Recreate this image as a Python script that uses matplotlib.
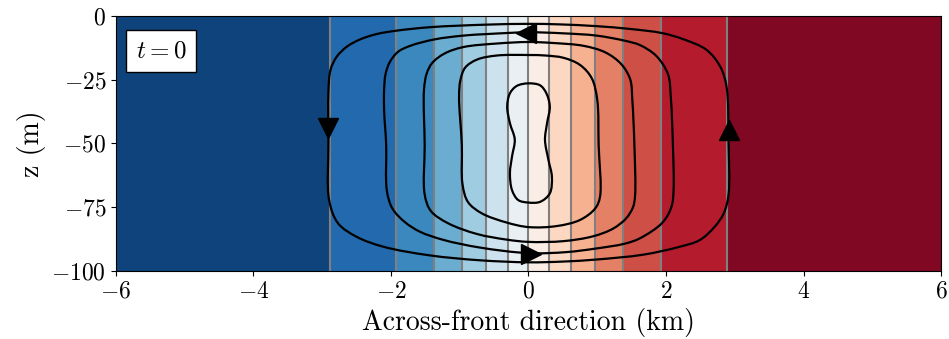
import numpy as np
import matplotlib
matplotlib.use('Agg')
import matplotlib.pyplot as plt
from matplotlib.path import Path
from matplotlib.patches import PathPatch

plt.rcParams['font.family'] = 'serif'
plt.rcParams['font.serif'] = ['cmr10']
plt.rcParams['mathtext.fontset'] = 'cm'
plt.rcParams['axes.formatter.use_mathtext'] = True

# buoyancy contour positions (km) -> colour bands between them
band_edges = [-2.89, -1.93, -1.37, -0.965, -0.615, -0.30, 0.0,
              0.30, 0.615, 0.965, 1.37, 1.93, 2.89]
band_index = list(range(len(band_edges) + 1))

# streamlines (x in km, z in m), closed loops
loop1_x = [0, -0.61, -1.43, -1.93, -2.21, -2.45, -2.64, -2.79, -2.88, -2.91, -2.91, -2.90,
           -2.77, -2.50, -2.11, -1.43, -0.71, 0, 0.51, 0.99, 1.67, 2.20, 2.49, 2.71, 2.84,
           2.91, 2.91, 2.88, 2.79, 2.59, 2.25, 1.94, 1.48, 0.99, 0.45]
loop1_z = [-3.2, -3.5, -4.5, -5.9, -7.2, -9.3, -12.1, -16.1, -21.3, -30, -50, -72.2,
           -81.3, -86.6, -90.5, -93.9, -95.8, -96.6, -96.3, -95.5, -93.6, -90.5, -87.9, -82.6, -77.4,
           -70, -50, -27.8, -20, -13.4, -9.2, -6.8, -5.2, -4.1, -3.4]

loop2_x = [0, -0.61, -0.95, -1.37, -1.72, -1.90, -2.02, -2.08, -2.10, -2.10, -2.07, -2.06,
           -1.98, -1.80, -1.58, -1.24, -0.71, 0, 0.55, 0.98, 1.40, 1.62, 1.95, 2.08, 2.11,
           2.10, 2.07, 2.03, 1.86, 1.62, 1.40, 0.99, 0.50]
loop2_z = [-6.5, -7.2, -7.8, -9.3, -11.8, -14.2, -18.3, -23, -29, -37, -50.6, -68.5,
           -75.5, -80.8, -84.6, -87.8, -90.8, -93.0, -92.6, -91.2, -89.3, -87.2, -81, -74.8, -68.3,
           -50.6, -32, -23, -15.8, -11.5, -9.8, -7.8, -6.9]

loop3_x = [0, -0.46, -0.95, -1.22, -1.40, -1.48, -1.52, -1.51, -1.51, -1.42, -1.17, -0.75,
           -0.32, 0, 0.51, 0.94, 1.23, 1.42, 1.52, 1.55, 1.54, 1.51, 1.48, 1.35, 1.12,
           0.80, 0.36]
loop3_z = [-10.3, -10.9, -12.3, -14.8, -18.5, -22.6, -29.1, -50.6, -70, -76.5, -81.3, -85.5,
           -87.7, -88.6, -88.3, -86.4, -83.4, -79.4, -75, -70.5, -50.6, -33, -25, -19, -14.4,
           -11.8, -10.7]

loop4_x = [0, -0.46, -0.75, -0.92, -0.99, -1.01, -0.97, -0.96, -0.88, -0.68, -0.32,
           0, 0.41, 0.75, 0.97, 1.04, 1.02, 1.00, 0.92, 0.75, 0.51, 0.25]
loop4_z = [-15.4, -15.6, -17.2, -20.3, -25.2, -31.7, -50.6, -66, -73, -77.4, -81,
           -82.8, -82.4, -80, -75.5, -70.9, -50.6, -33, -24.5, -19.3, -16.5, -15.6]

loop5_x = [0, -0.17, -0.27, -0.31, -0.27, -0.20, -0.24, -0.27, -0.24, -0.15,
           0, 0.17, 0.31, 0.34, 0.29, 0.24, 0.27, 0.31, 0.26, 0.17]
loop5_z = [-26.5, -27.5, -30.4, -35.6, -42.1, -48.5, -55.2, -61.7, -68.3, -72.2,
           -73.2, -72.9, -69.6, -63, -56.5, -48.7, -42.1, -35.6, -30.4, -27.3]

# flow direction arrows: x, z, marker
arrow_x = [-2.91, 2.91, -0.03, 0.04]
arrow_z = [-43.8, -44.6, -6.6, -93.2]
arrow_m = ['v', '^', '<', '>']

xticks = [-6, -4, -2, 0, 2, 4, 6]
zticks = [0, -25, -50, -75, -100]


def smooth_loop(x, z):
    # closed centripetal Catmull-Rom curve through the read points, as Bezier
    # segments; knot spacing measured roughly in screen units
    p = np.column_stack([x, z]).astype(float)
    s = np.array([68.75, 2.553])
    n = len(p)
    verts = [p[0]]
    codes = [Path.MOVETO]
    for i in range(n):
        p0, p1, p2, p3 = p[i - 1], p[i], p[(i + 1) % n], p[(i + 2) % n]
        d1 = np.hypot(*((p1 - p0) * s)) ** 0.5
        d2 = np.hypot(*((p2 - p1) * s)) ** 0.5
        d3 = np.hypot(*((p3 - p2) * s)) ** 0.5
        b1 = (d1**2 * p2 - d2**2 * p0 + (2*d1**2 + 3*d1*d2 + d2**2) * p1) / (3*d1*(d1 + d2))
        b2 = (d3**2 * p1 - d2**2 * p3 + (2*d3**2 + 3*d3*d2 + d2**2) * p2) / (3*d3*(d3 + d2))
        verts += [b1, b2, p2]
        codes += [Path.CURVE4] * 3
    return Path(verts, codes)


fig = plt.figure(figsize=(9.49, 3.39), dpi=100)
ax = fig.add_axes([0.1222, 0.2006, 0.8694, 0.7531])

xe = np.array([-6] + band_edges + [6])
ax.pcolormesh(xe, [-100, 0], np.array([band_index]), cmap='RdBu_r',
              vmin=-0.5, vmax=len(band_index) - 0.5, shading='flat')
ax.vlines(band_edges, -100, 0, color='#808080', lw=1.5)

for lx, lz in [(loop1_x, loop1_z), (loop2_x, loop2_z), (loop3_x, loop3_z),
               (loop4_x, loop4_z), (loop5_x, loop5_z)]:
    ax.add_patch(PathPatch(smooth_loop(lx, lz), fill=False, ec='k', lw=1.6, zorder=3))

for xa, za, m in zip(arrow_x, arrow_z, arrow_m):
    ax.plot(xa, za, marker=m, color='k', markersize=15, zorder=4)

ax.text(0.024, 0.905, r'$t = 0$', transform=ax.transAxes, fontsize=18,
        ha='left', va='top',
        bbox=dict(boxstyle='square,pad=0.4', fc='w', ec='k', lw=1))

ax.set_xlim(-6, 6)
ax.set_ylim(-100, 0)
ax.set_xticks(xticks)
ax.set_yticks(zticks)
ax.tick_params(labelsize=17)
ax.set_xlabel('Across-front direction (km)', fontsize=20)
ax.set_ylabel('z (m)', fontsize=20)

fig.savefig('out.png', dpi=100)
